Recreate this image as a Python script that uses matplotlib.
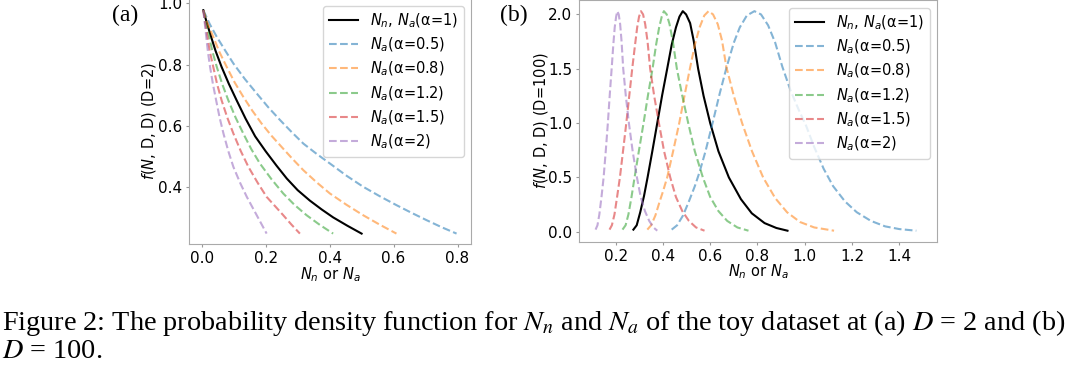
import numpy as np
import matplotlib
matplotlib.use('Agg')
import matplotlib.pyplot as plt

# ---- panel (a): D=2
a_black_x  = [0.005, 0.015, 0.026, 0.043, 0.062, 0.085, 0.109, 0.137, 0.167, 0.200, 0.234, 0.266, 0.300, 0.338, 0.375, 0.411, 0.455, 0.500]
a_black_y  = [0.978, 0.940, 0.902, 0.846, 0.793, 0.737, 0.684, 0.624, 0.566, 0.517, 0.470, 0.428, 0.390, 0.356, 0.327, 0.301, 0.274, 0.248]
a_blue_x   = [0.005, 0.025, 0.047, 0.073, 0.099, 0.135, 0.172, 0.208, 0.245, 0.282, 0.318, 0.360, 0.401, 0.453, 0.505, 0.557, 0.609, 0.656, 0.703, 0.750, 0.797]
a_blue_y   = [0.978, 0.933, 0.891, 0.847, 0.804, 0.753, 0.706, 0.661, 0.619, 0.579, 0.542, 0.508, 0.477, 0.437, 0.401, 0.370, 0.341, 0.316, 0.292, 0.269, 0.248]
a_orange_x = [0.005, 0.019, 0.036, 0.056, 0.078, 0.103, 0.130, 0.158, 0.187, 0.218, 0.250, 0.284, 0.318, 0.360, 0.401, 0.453, 0.505, 0.557, 0.609]
a_orange_y = [0.978, 0.933, 0.891, 0.840, 0.793, 0.742, 0.695, 0.650, 0.608, 0.568, 0.531, 0.492, 0.455, 0.415, 0.379, 0.342, 0.308, 0.277, 0.248]
a_green_x  = [0.005, 0.012, 0.021, 0.033, 0.047, 0.064, 0.083, 0.106, 0.130, 0.155, 0.182, 0.218, 0.255, 0.290, 0.328, 0.370, 0.411]
a_green_y  = [0.978, 0.938, 0.902, 0.845, 0.793, 0.737, 0.684, 0.627, 0.575, 0.524, 0.477, 0.426, 0.379, 0.342, 0.308, 0.276, 0.248]
a_red_x    = [0.005, 0.010, 0.016, 0.025, 0.036, 0.048, 0.062, 0.080, 0.099, 0.122, 0.146, 0.175, 0.203, 0.230, 0.255, 0.281, 0.307]
a_red_y    = [0.978, 0.940, 0.902, 0.845, 0.793, 0.737, 0.684, 0.627, 0.575, 0.518, 0.466, 0.414, 0.368, 0.337, 0.308, 0.277, 0.248]
a_purple_x = [0.005, 0.009, 0.013, 0.019, 0.026, 0.035, 0.045, 0.056, 0.068, 0.083, 0.099, 0.120, 0.141, 0.157, 0.172, 0.188, 0.203]
a_purple_y = [0.978, 0.940, 0.902, 0.845, 0.793, 0.737, 0.684, 0.627, 0.575, 0.518, 0.466, 0.414, 0.368, 0.337, 0.308, 0.277, 0.248]

# ---- panel (b): D=100
b_black_x  = [0.275, 0.289, 0.304, 0.320, 0.335, 0.355, 0.376, 0.397, 0.418, 0.437, 0.455, 0.470, 0.484,
              0.498, 0.515, 0.530, 0.549, 0.572, 0.600, 0.635, 0.679, 0.730, 0.776, 0.830, 0.880, 0.927]
b_black_y  = [0.02, 0.06, 0.18, 0.33, 0.50, 0.74, 1.00, 1.26, 1.50, 1.72, 1.88, 1.98, 2.03,
              2.00, 1.92, 1.76, 1.50, 1.25, 1.00, 0.74, 0.50, 0.30, 0.17, 0.08, 0.035, 0.01]
b_blue_x   = [0.437, 0.460, 0.485, 0.510, 0.535, 0.555, 0.580, 0.610, 0.640, 0.670, 0.700, 0.725, 0.755, 0.787,
              0.815, 0.845, 0.875, 0.905, 0.940, 0.975, 1.005, 1.040, 1.080, 1.120, 1.170, 1.220, 1.280, 1.340, 1.400, 1.472]
b_blue_y   = [0.02, 0.06, 0.15, 0.28, 0.42, 0.55, 0.74, 1.00, 1.27, 1.52, 1.74, 1.88, 1.99, 2.03,
              2.00, 1.90, 1.74, 1.52, 1.30, 1.12, 0.98, 0.78, 0.58, 0.42, 0.28, 0.18, 0.10, 0.05, 0.025, 0.01]
b_orange_x = [0.334, 0.350, 0.368, 0.385, 0.400, 0.418, 0.443, 0.469, 0.492, 0.514, 0.535, 0.555, 0.575, 0.593,
              0.612, 0.632, 0.650, 0.668, 0.700, 0.735, 0.777, 0.824, 0.875, 0.925, 0.980, 1.040, 1.124]
b_orange_y = [0.02, 0.06, 0.15, 0.27, 0.37, 0.50, 0.74, 1.00, 1.26, 1.50, 1.72, 1.88, 1.99, 2.03,
              2.00, 1.91, 1.76, 1.52, 1.25, 1.00, 0.74, 0.50, 0.31, 0.18, 0.09, 0.04, 0.01]
b_green_x  = [0.229, 0.242, 0.254, 0.267, 0.280, 0.298, 0.318, 0.337, 0.356, 0.371, 0.384, 0.395, 0.404,
              0.416, 0.428, 0.442, 0.459, 0.482, 0.507, 0.535, 0.569, 0.600, 0.635, 0.672, 0.715, 0.762]
b_green_y  = [0.02, 0.06, 0.16, 0.32, 0.50, 0.74, 1.00, 1.26, 1.50, 1.72, 1.88, 1.98, 2.03,
              2.00, 1.91, 1.75, 1.50, 1.25, 1.00, 0.74, 0.50, 0.32, 0.19, 0.10, 0.04, 0.01]
b_red_x    = [0.174, 0.184, 0.195, 0.206, 0.218, 0.231, 0.245, 0.258, 0.270, 0.282, 0.291, 0.299, 0.307,
              0.316, 0.325, 0.335, 0.346, 0.363, 0.383, 0.405, 0.431, 0.455, 0.482, 0.510, 0.540, 0.576]
b_red_y    = [0.02, 0.06, 0.16, 0.32, 0.50, 0.74, 1.00, 1.26, 1.50, 1.72, 1.88, 1.98, 2.03,
              2.00, 1.91, 1.75, 1.50, 1.25, 1.00, 0.74, 0.50, 0.32, 0.19, 0.10, 0.04, 0.01]
b_purple_x = [0.115, 0.123, 0.131, 0.140, 0.149, 0.158, 0.167, 0.175, 0.183, 0.190, 0.196, 0.202, 0.207,
              0.213, 0.219, 0.225, 0.232, 0.243, 0.256, 0.272, 0.290, 0.306, 0.324, 0.342, 0.360, 0.376]
b_purple_y = [0.02, 0.06, 0.16, 0.32, 0.50, 0.74, 1.00, 1.26, 1.50, 1.72, 1.88, 1.98, 2.03,
              2.00, 1.91, 1.75, 1.50, 1.25, 1.00, 0.74, 0.50, 0.32, 0.19, 0.10, 0.04, 0.01]

labels = [r'$N_n$, $N_a$(α=1)', r'$N_a$(α=0.5)', r'$N_a$(α=0.8)',
          r'$N_a$(α=1.2)', r'$N_a$(α=1.5)', r'$N_a$(α=2)']
dash_colors = ['tab:blue', 'tab:orange', 'tab:green', 'tab:red', 'tab:purple']

fig = plt.figure(figsize=(10.66, 3.70), dpi=100)
ax1 = fig.add_axes([0.1776, 0.3397, 0.2642, 0.6649])
ax2 = fig.add_axes([0.5434, 0.3468, 0.3359, 0.6524])


def draw(ax, black, dashed):
    ax.plot(black[0], black[1], '-', color='black', lw=1.5, label=labels[0])
    for (x, y), c, lab in zip(dashed, dash_colors, labels[1:]):
        ax.plot(x, y, '--', color=c, alpha=0.55, lw=1.5, label=lab)
    for s in ax.spines.values():
        s.set_color('#aaaaaa')
    ax.tick_params(color='#999999', labelsize=11, length=2.5, pad=2.5)
    ax.set_xlabel(r'$N_n$ or $N_a$', fontsize=10.5, labelpad=-1)
    ax.legend(loc='upper right', fontsize=10.5, labelspacing=0.4)


draw(ax1, (a_black_x, a_black_y),
     [(a_blue_x, a_blue_y), (a_orange_x, a_orange_y), (a_green_x, a_green_y),
      (a_red_x, a_red_y), (a_purple_x, a_purple_y)])
ax1.set_xlim(-0.0388, 0.842)
ax1.set_ylim(0.213, 1.017)
ax1.set_xticks([0.0, 0.2, 0.4, 0.6, 0.8])
ax1.set_yticks([0.4, 0.6, 0.8, 1.0])
ax1.set_ylabel(r'$f$($N$, D, D) (D=2)', fontsize=10.5, labelpad=0)

draw(ax2, (b_black_x, b_black_y),
     [(b_blue_x, b_blue_y), (b_orange_x, b_orange_y), (b_green_x, b_green_y),
      (b_red_x, b_red_y), (b_purple_x, b_purple_y)])
ax2.set_xlim(0.046, 1.561)
ax2.set_ylim(-0.091, 2.13)
ax2.set_xticks([0.2, 0.4, 0.6, 0.8, 1.0, 1.2, 1.4])
ax2.set_yticks([0.0, 0.5, 1.0, 1.5, 2.0])
ax2.set_ylabel(r'$f$($N$, D, D) (D=100)', fontsize=10.5, labelpad=-1.5)

serif = dict(family='Liberation Serif', math_fontfamily='stix')
fig.text(112 / 1066, 1 - 15 / 370, '(a)', va='center', ha='left', fontsize=17, **serif)
fig.text(500 / 1066, 1 - 15 / 370, '(b)', va='center', ha='left', fontsize=17, **serif)
fig.text(2 / 1066, 1 - 323 / 370,
         r'Figure 2: The probability density function for $N_n$ and $N_a$ of the toy dataset at (a) $D$ = 2 and (b)',
         va='center', ha='left', fontsize=20.3, **serif)
fig.text(2 / 1066, 1 - 352 / 370, r'$D$ = 100.', va='center', ha='left', fontsize=20.3, **serif)

fig.savefig('out.png', dpi=100)
